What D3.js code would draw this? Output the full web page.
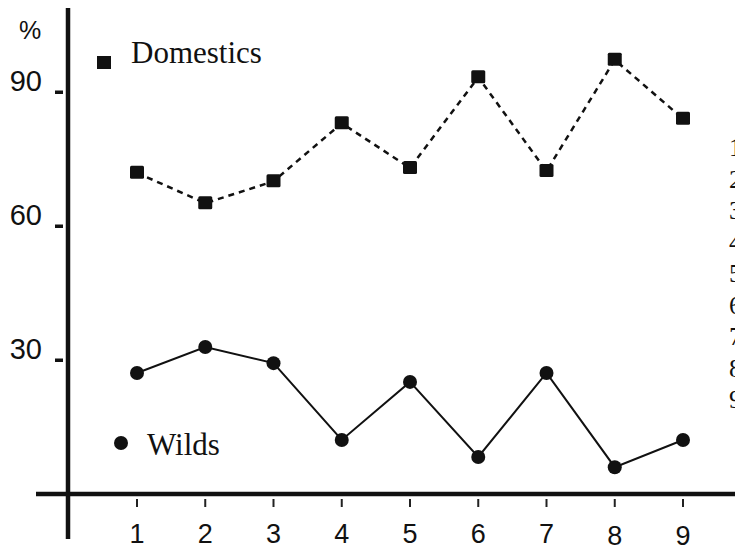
<!DOCTYPE html>
<html><head><meta charset="utf-8">
<script src="https://cdn.jsdelivr.net/npm/d3@7"></script>
<style>body{margin:0;background:#fff;}svg{display:block;}</style>
</head><body>
<svg id="c" width="735" height="550"></svg>
<script>
const categories = [1,2,3,4,5,6,7,8,9];
const domestics = [71.9, 65.1, 70, 83, 73, 93.3, 72.3, 97.2, 84];
const wilds = [27.1, 32.9, 29.3, 12.1, 25.1, 8.3, 27.1, 6.0, 12.1];
const yTicks = [30, 60, 90];
const edgeChars = ["1","2","3","4","5","6","7","8","9"];

const svg = d3.select("#c");
const x = d3.scaleLinear().domain([1,9]).range([137,683]);
const y = d3.scaleLinear().domain([0,90]).range([494,92]);

// axes lines
svg.append("line").attr("x1",68).attr("x2",68).attr("y1",8).attr("y2",539)
  .attr("stroke","#111").attr("stroke-width",4.5);
svg.append("line").attr("x1",36).attr("x2",735).attr("y1",y(0)).attr("y2",y(0))
  .attr("stroke","#111").attr("stroke-width",4.5);

// y ticks
const yg = svg.append("g");
yTicks.forEach(t=>{
  yg.append("rect").attr("x",55).attr("y",y(t)-1.5).attr("width",8).attr("height",3.5).attr("fill","#111");
  yg.append("text").attr("x",42).attr("y",y(t)-1).attr("text-anchor","end")
    .attr("font-family","Liberation Sans, Arial, sans-serif").attr("font-size",29).attr("fill","#111").text(t);
});
svg.append("text").attr("x",19).attr("y",39).attr("font-family","Liberation Sans, Arial, sans-serif")
  .attr("font-size",25).attr("fill","#111").text("%");

// x ticks
const xg = svg.append("g");
categories.forEach(c=>{
  xg.append("line").attr("x1",x(c)).attr("x2",x(c)).attr("y1",499).attr("y2",507)
    .attr("stroke","#222").attr("stroke-width",2);
  xg.append("text").attr("x",x(c)).attr("y",c>=8?545:543).attr("text-anchor","middle")
    .attr("font-family","Liberation Sans, Arial, sans-serif").attr("font-size",27).attr("fill","#111").text(c);
});

// domestics dashed line
const line = d3.line().x((d,i)=>x(categories[i])).y(d=>y(d));
svg.append("path").datum(domestics).attr("d",line).attr("fill","none")
  .attr("stroke","#111").attr("stroke-width",2.5).attr("stroke-dasharray","6,5");
svg.selectAll(".sq").data(domestics).enter().append("rect")
  .attr("x",(d,i)=>x(categories[i])-7).attr("y",d=>y(d)-7)
  .attr("width",14).attr("height",13).attr("rx",1.5).attr("fill","#111");

// wilds solid line
svg.append("path").datum(wilds).attr("d",line).attr("fill","none")
  .attr("stroke","#111").attr("stroke-width",2);
svg.selectAll(".ci").data(wilds).enter().append("circle")
  .attr("cx",(d,i)=>x(categories[i])).attr("cy",d=>y(d)).attr("r",7).attr("fill","#111");

// legends
svg.append("rect").attr("x",97).attr("y",56).attr("width",14).attr("height",13).attr("fill","#111");
svg.append("text").attr("x",131).attr("y",63).attr("font-family","Liberation Serif, Times New Roman, serif")
  .attr("font-size",31).attr("fill","#111").text("Domestics");
svg.append("circle").attr("cx",121).attr("cy",443).attr("r",7).attr("fill","#111");
svg.append("text").attr("x",147).attr("y",455).attr("font-family","Liberation Serif, Times New Roman, serif")
  .attr("font-size",31).attr("fill","#111").text("Wilds");

// clipped characters at right edge (scan artifact)
edgeChars.forEach((ch,i)=>{
  svg.append("text").attr("x",729).attr("y",156+i*31.5)
    .attr("font-family","Liberation Serif, Times New Roman, serif").attr("font-size",26)
    .attr("fill","#111").text(ch);
});
</script>
</body></html>
